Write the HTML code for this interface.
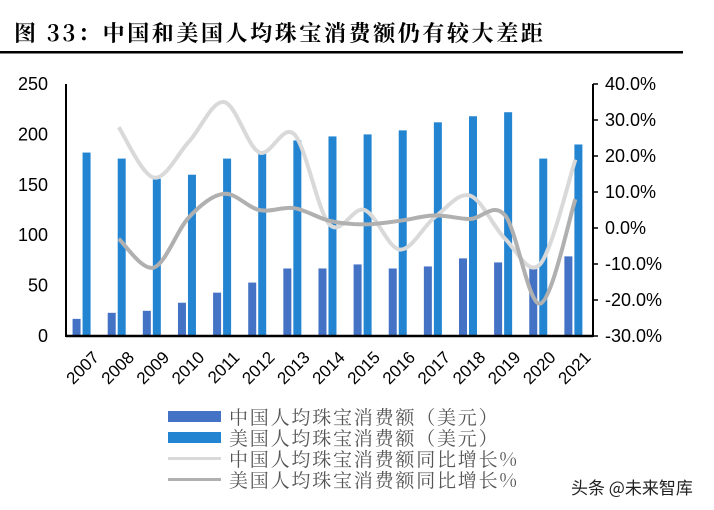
<!DOCTYPE html>
<html><head><meta charset="utf-8"><style>
body{margin:0;background:#fff;width:714px;height:510px;overflow:hidden;}
svg{display:block}
</style></head><body>
<svg id="s" width="714" height="510" xmlns="http://www.w3.org/2000/svg">
<text x="14" y="41" font-family="'Noto Serif CJK SC','Noto Sans CJK SC',serif" font-weight="bold" font-size="22" letter-spacing="2.6" fill="#000">图 33：中国和美国人均珠宝消费额仍有较大差距</text>
<rect x="0" y="51" width="683" height="2.5" fill="#000"/>
<g id="bars"></g>
<g id="lines"></g>
<line x1="66" y1="84" x2="66" y2="337" stroke="#000" stroke-width="2"/>
<line x1="66" y1="336" x2="593" y2="336" stroke="#000" stroke-width="2.5"/>
<line x1="593" y1="84" x2="593" y2="337" stroke="#000" stroke-width="2"/>
<g id="ticks" font-family="'Liberation Sans',sans-serif" font-size="18" fill="#000"></g>
<g font-family="'Noto Serif CJK SC',serif" font-size="19" letter-spacing="1.8" fill="#555">
<rect x="168" y="411" width="53" height="11" fill="#4472c4"/>
<text x="229" y="424">中国人均珠宝消费额（美元）</text>
<rect x="168" y="432" width="53" height="11" fill="#2385d1"/>
<text x="229" y="445">美国人均珠宝消费额（美元）</text>
<rect x="168" y="457" width="53" height="3" fill="#d9d9d9"/>
<text x="229" y="466">中国人均珠宝消费额同比增长%</text>
<rect x="168" y="478" width="53" height="3" fill="#b0b0b0"/>
<text x="229" y="487">美国人均珠宝消费额同比增长%</text>
</g>
<text x="571" y="494" font-family="'Noto Sans CJK SC',sans-serif" font-size="17" fill="#222">头条 @未来智库</text>
</svg>
<script>
var NS="http://www.w3.org/2000/svg";
function el(t,a,p){var e=document.createElementNS(NS,t);for(var k in a)e.setAttribute(k,a[k]);document.getElementById(p).appendChild(e);return e;}
var cn=[17,23,25,33,43,53,67,67,71,67,69,77,73,67,79];
var us=[182,176,156,160,176,183,194,198,200,204,212,218,222,176,190];
var L=66,W=35.13,Y0=336,Y250=84;
function yl(v){return Y0-(Y0-Y250)*v/250;}
function yr(p){return Y0-(Y0-Y250)*(p+30)/70;}
for(var i=0;i<15;i++){var c=L+W*(i+0.5);
el('rect',{x:c-11,y:yl(cn[i]),width:8,height:Y0-yl(cn[i]),fill:'#4472c4'},'bars');
el('rect',{x:c-1,y:yl(us[i]),width:8,height:Y0-yl(us[i]),fill:'#2385d1'},'bars');
var t=el('text',{transform:'translate('+(c+8)+',350) rotate(-45)','text-anchor':'end','dominant-baseline':'hanging','font-size':17},'ticks');t.textContent=2007+i;}
for(var v=0;v<=250;v+=50){var t=el('text',{x:48,y:yl(v)+6,'text-anchor':'end'},'ticks');t.textContent=v;}
for(var p=-30;p<=40;p+=10){var t=el('text',{x:605,y:yr(p)+6},'ticks');t.textContent=p.toFixed(1)+'%';
el('line',{x1:593,x2:598,y1:yr(p),y2:yr(p),stroke:'#000','stroke-width':1.5},'ticks');}
function path(d){var pts=d.map(function(v,j){return [L+W*(j+1.5),yr(v)];});
var s='M'+pts[0][0]+','+pts[0][1];
for(var i=0;i<pts.length-1;i++){var p0=pts[i-1]||pts[i],p1=pts[i],p2=pts[i+1],p3=pts[i+2]||p2;
s+=' C'+(p1[0]+(p2[0]-p0[0])/6)+','+(p1[1]+(p2[1]-p0[1])/6)+' '+(p2[0]-(p3[0]-p1[0])/6)+','+(p2[1]-(p3[1]-p1[1])/6)+' '+p2[0]+','+p2[1];}
return s;}
el('path',{d:path([28,14,24,35,21,26,1,5,-6,3,9,-3,-10,19]),fill:'none',stroke:'#d9d9d9','stroke-width':4},'lines');
el('path',{d:path([-3,-11,3,9.5,5,5.5,2,1,2,3.5,2.5,3.5,-21,8]),fill:'none',stroke:'#b0b0b0','stroke-width':4},'lines');
</script>
</body></html>
